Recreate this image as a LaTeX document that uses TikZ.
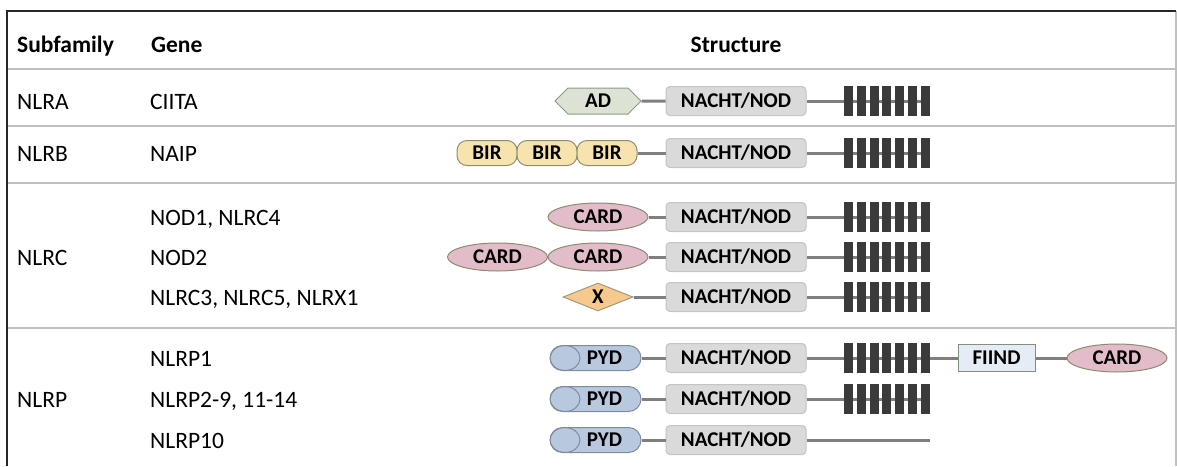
\documentclass[tikz,border=0pt]{standalone}
\usepackage{fontspec}
\setmainfont{Carlito}
\usetikzlibrary{shapes.geometric,shapes.symbols}

\definecolor{nachtfill}{HTML}{DADADA}
\definecolor{nachtline}{HTML}{C4C4C4}
\definecolor{adfill}{HTML}{DCE3D5}
\definecolor{adline}{HTML}{8C9A82}
\definecolor{birfill}{HTML}{F6E3AE}
\definecolor{birline}{HTML}{8E8E6C}
\definecolor{cardfill}{HTML}{E3BCC9}
\definecolor{cardline}{HTML}{8C8C72}
\definecolor{xfill}{HTML}{F8C98C}
\definecolor{xline}{HTML}{9C9A80}
\definecolor{pydfill}{HTML}{B7C8DF}
\definecolor{pydline}{HTML}{7F8C9C}
\definecolor{fiindfill}{HTML}{E5ECF5}
\definecolor{fiindline}{HTML}{7F907F}
\definecolor{linkgray}{HTML}{7F7F7F}
\definecolor{rulegray}{HTML}{C0C0C0}
\definecolor{bargray}{HTML}{3A3A3A}

\begin{document}
\begin{tikzpicture}[x=1pt, y=-1pt,
    tabtext/.style={anchor=base west, inner sep=0pt, font=\fontsize{23.5}{28}\selectfont},
    tabhead/.style={tabtext, font=\fontsize{23.5}{28}\selectfont\bfseries},
    dombox/.style={inner sep=0pt, text=black, font=\fontsize{21}{24}\selectfont\bfseries},
    nacht/.style={dombox, draw=nachtline, fill=nachtfill, line width=1pt, rounded corners=4pt,
        minimum width=140pt, minimum height=29pt},
    adbox/.style={dombox, signal, signal to=west and east, signal pointer angle=90,
        draw=adline, fill=adfill, line width=1pt, minimum width=86pt, minimum height=26pt},
    bir/.style={dombox, draw=birline, fill=birfill, line width=1pt, rounded corners=10pt,
        minimum width=60pt, minimum height=25pt},
    card/.style={dombox, ellipse, draw=cardline, fill=cardfill, line width=1pt,
        minimum width=100pt, minimum height=28pt},
    xbox/.style={dombox, diamond, aspect=2.5, draw=xline, fill=xfill, line width=1pt,
        minimum width=70pt, minimum height=28pt},
    pyd/.style={dombox, draw=pydline, fill=pydfill, line width=1pt, rounded corners=12.5pt,
        minimum width=91pt, minimum height=25pt,
        path picture={\draw[pydline, line width=1pt]
            ([xshift=15pt]path picture bounding box.west) ellipse (15pt and 12.5pt);}},
    fiind/.style={dombox, draw=fiindline, fill=fiindfill, line width=1pt,
        minimum width=77pt, minimum height=27pt},
    lrr/.style={inner sep=0pt, minimum width=86pt, minimum height=30pt},
    lrrbar/.style={fill=bargray, inner sep=0pt, minimum width=9pt, minimum height=30pt},
    link/.style={draw=linkgray, line width=3pt},
    rule/.style={draw=rulegray, line width=2pt}]

    \useasboundingbox (0,0) rectangle (1177,466);

    % Draw table frame and rules
    \draw[rule] (1176,11) -- (1176,466);
    \foreach \y in {69,126,183,328}
        \draw[rule] (7,\y) -- (1176,\y);
    \draw[line width=2pt, black!85] (7,466) -- (7,11) -- (1176,11);

    % Draw header
    \node[tabhead] (h-sub) at (17,52) {Subfamily};
    \node[tabhead] (h-gene) at (151,52) {Gene};
    \node[tabhead, anchor=base] (h-struct) at (736,52) {Structure};

    % Draw subfamily and gene names
    \node[tabtext] (sub-a) at (17,109) {NLRA};
    \node[tabtext] (gene-a) at (150,109) {CIITA};
    \node[tabtext] (sub-b) at (17,161) {NLRB};
    \node[tabtext] (gene-b) at (150,161) {NAIP};
    \node[tabtext] (sub-c) at (17,265) {NLRC};
    \node[tabtext] (gene-c1) at (150,225) {NOD1, NLRC4};
    \node[tabtext] (gene-c2) at (150,265) {NOD2};
    \node[tabtext] (gene-c3) at (150,305) {NLRC3, NLRC5, NLRX1};
    \node[tabtext] (sub-p) at (17,407) {NLRP};
    \node[tabtext] (gene-p1) at (150,366) {NLRP1};
    \node[tabtext] (gene-p2) at (150,407) {NLRP2-9, 11-14};
    \node[tabtext] (gene-p3) at (150,448) {NLRP10};

    % Draw NACHT/NOD domains
    \foreach \r/\y in {a/101,b/153,c1/217,c2/257,c3/297,p1/358,p2/399,p3/440}
        \node[nacht] (nacht-\r) at (736,\y) {NACHT/NOD};

    % Draw LRR repeats
    \foreach \r/\y in {a/101,b/153,c1/217,c2/257,c3/297,p1/358,p2/399} {
        \node[lrr] (lrr-\r) at (887,\y) {};
        \draw[link] (nacht-\r) -- (lrr-\r.east);
        \foreach \i in {0,...,6}
            \node[lrrbar] at (848.5+\i*12.8,\y) {};
    }
    \coordinate (end-p3) at (930,440);
    \draw[link] (nacht-p3) -- (end-p3);

    % Draw N-terminal domains
    \node[adbox] (ad) at (598,101) {AD};
    \node[bir] (bir1) at (487,153) {BIR};
    \node[bir] (bir2) at (547,153) {BIR};
    \node[bir] (bir3) at (607,153) {BIR};
    \node[card] (card-c1) at (598,217) {CARD};
    \node[card] (card-c2a) at (497.5,257) {CARD};
    \node[card] (card-c2b) at (598,257) {CARD};
    \node[xbox] (x-c3) at (598,297) {X};
    \node[pyd] (pyd-p1) at (595.5,358) {\hspace*{18pt}PYD};
    \node[pyd] (pyd-p2) at (595.5,399) {\hspace*{18pt}PYD};
    \node[pyd] (pyd-p3) at (595.5,440) {\hspace*{18pt}PYD};

    % Draw C-terminal domains of NLRP1
    \node[fiind] (fiind) at (996.5,358) {FIIND};
    \node[card] (card-p1) at (1117,358) {CARD};

    % Draw edges
    \draw[link] (ad) -- (nacht-a);
    \draw[link] (bir3) -- (nacht-b);
    \draw[link] (card-c1) -- (nacht-c1);
    \draw[link] (card-c2b) -- (nacht-c2);
    \draw[link] (x-c3) -- (nacht-c3);
    \foreach \r in {p1,p2,p3}
        \draw[link] (pyd-\r) -- (nacht-\r);
    \draw[link] (lrr-p1.east) -- (fiind);
    \draw[link] (fiind) -- (card-p1);
\end{tikzpicture}
\end{document}
